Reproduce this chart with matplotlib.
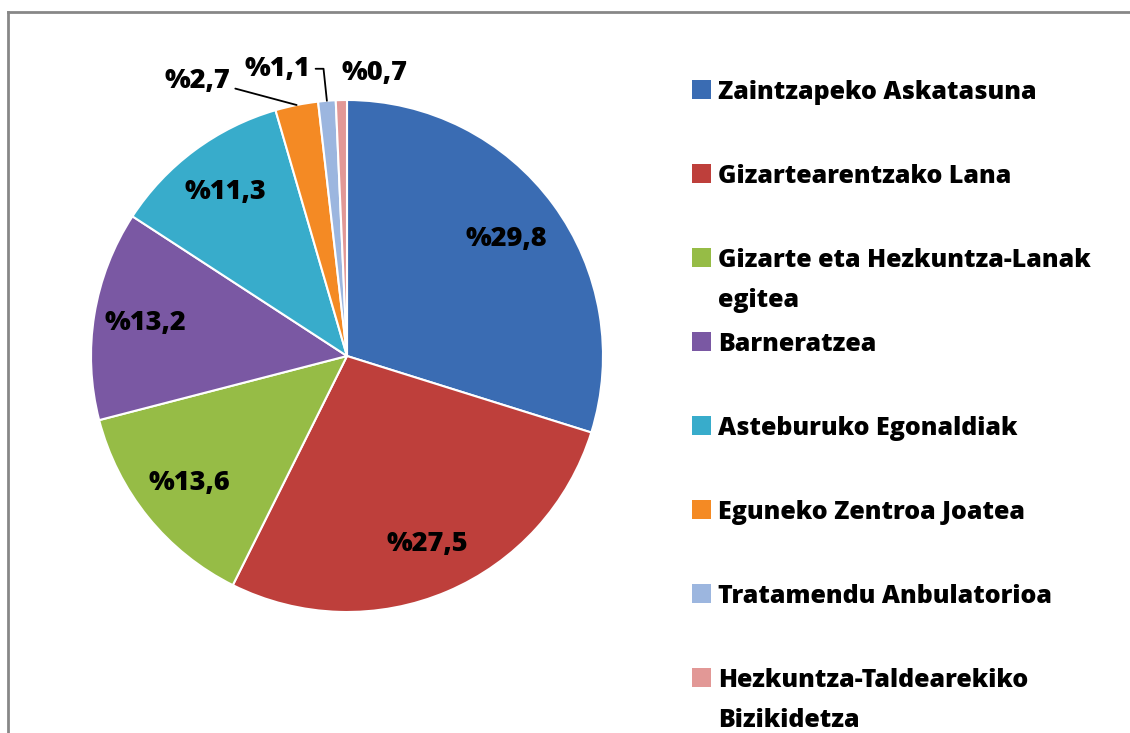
import numpy as np
import matplotlib
matplotlib.use("Agg")
import matplotlib.pyplot as plt
from matplotlib.patches import Rectangle
from matplotlib.lines import Line2D

# data
categories = ["Zaintzapeko Askatasuna", "Gizartearentzako Lana",
              "Gizarte eta Hezkuntza-Lanak\negitea", "Barneratzea",
              "Asteburuko Egonaldiak", "Eguneko Zentroa Joatea",
              "Tratamendu Anbulatorioa", "Hezkuntza-Taldearekiko\nBizikidetza"]
values = [29.8, 27.5, 13.6, 13.2, 11.3, 2.7, 1.1, 0.7]
colors = ["#3a6cb3", "#be3f3b", "#96bc46", "#7a58a3",
          "#38accb", "#f48a24", "#9cb6df", "#e29896"]

W, H = 1130, 733
plt.rcParams["font.family"] = ["Open Sans", "DejaVu Sans"]
plt.rcParams["font.weight"] = "bold"

fig = plt.figure(figsize=(W / 100, H / 100), dpi=100)

def fx(px):
    return px / W

def fy(py):
    return 1 - py / H

# pie centre (347, 356) px, radius 256 px
cx, cy, r = 347, 356, 256
ax = fig.add_axes([fx(cx - r), fy(cy + r), 2 * r / W, 2 * r / H])
wedges, _ = ax.pie(values, colors=colors, startangle=90, counterclock=False,
                   wedgeprops=dict(edgecolor="white", linewidth=1.5))
ax.set_xlim(-1, 1)
ax.set_ylim(-1, 1)
ax.axis("off")

def pct(v):
    return "%" + f"{v:.1f}".replace(".", ",")

fs_pie = 19.5
fs_leg = 18
wt = "heavy"

# labels inside the big slices
inner_r = [0.77, 0.80, 0.79, 0.80, 0.80]
for w, v, rr in zip(wedges[:5], values[:5], inner_r):
    a = np.deg2rad((w.theta1 + w.theta2) / 2)
    ax.text(rr * np.cos(a), rr * np.sin(a), pct(v), ha="center", va="center",
            fontsize=fs_pie, fontweight=wt)

# small slices, labels outside
outer_pos = [(-0.586, 1.075), (-0.273, 1.122), (0.109, 1.106)]
angleB = [165, 96, None]
for w, v, pos, ab in zip(wedges[5:], values[5:], outer_pos, angleB):
    a = np.deg2rad((w.theta1 + w.theta2) / 2)
    edge = (np.cos(a), np.sin(a))
    if ab is None:
        ax.text(pos[0], pos[1], pct(v), ha="center", va="center",
                fontsize=fs_pie, fontweight=wt)
    else:
        ax.annotate(pct(v), xy=edge, xytext=pos, ha="center", va="center",
                    fontsize=fs_pie, fontweight=wt, annotation_clip=False,
                    arrowprops=dict(arrowstyle="-", color="black", lw=1.3,
                                    shrinkA=2, shrinkB=0,
                                    connectionstyle=f"angle,angleA=0,angleB={ab},rad=0"))

# legend, evenly spaced entries like the original
base0, step = 99, 84
for i, (lab, col) in enumerate(zip(categories, colors)):
    b = base0 + i * step
    fig.add_artist(Rectangle((fx(692), fy(b)), 19 / W, 19 / H,
                             transform=fig.transFigure, facecolor=col,
                             edgecolor="none"))
    lines = lab.split("\n")
    for j, ln in enumerate(lines):
        fig.text(fx(718), fy(b + 40 * j), ln, ha="left", va="baseline",
                 fontsize=fs_leg, fontweight=wt)

# grey frame, only top and left visible
fig.add_artist(Line2D([fx(8), 1], [fy(12), fy(12)], color="#878787", lw=2,
                      transform=fig.transFigure))
fig.add_artist(Line2D([fx(8), fx(8)], [fy(12), 0], color="#878787", lw=2,
                      transform=fig.transFigure))

fig.savefig("out.png", dpi=100)
